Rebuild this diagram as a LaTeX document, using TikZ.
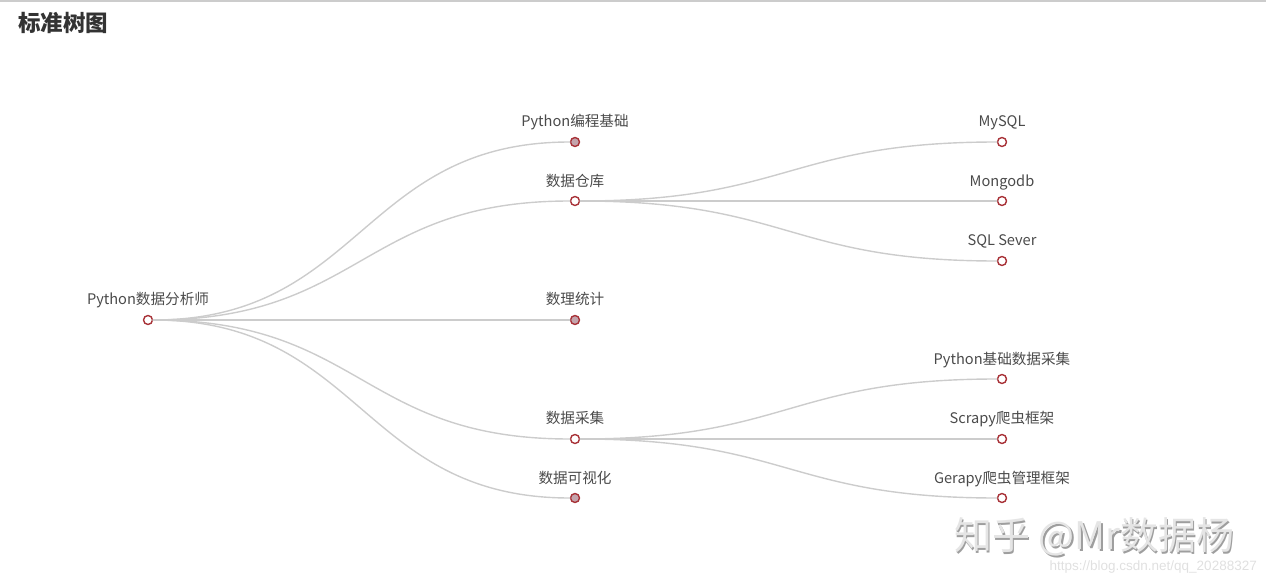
\documentclass[tikz,border=0pt]{standalone}
\usepackage{fontspec}
\setmainfont{Noto Sans CJK SC}
\newfontfamily\urlfont{Liberation Sans}
\definecolor{linegray}{HTML}{CCCCCC}
\definecolor{dotred}{HTML}{A83238}
\definecolor{dotfill}{HTML}{C4A4AC}
\definecolor{txtgray}{HTML}{4A4A4A}
\tikzset{
  dot/.style={circle,draw=dotred,line width=1.4pt,fill=white,minimum size=9pt,inner sep=0pt},
  leafdot/.style={dot,fill=dotfill},
  lbl/.style={text=txtgray,font=\fontsize{14.6}{16}\selectfont,inner sep=0pt,anchor=base},
  edge/.style={draw=linegray,line width=1.4pt},
}
\begin{document}
\begin{tikzpicture}[x=1pt,y=-1pt, line join=round, line cap=round]
	\useasboundingbox (0,0) rectangle (1266,586);
	\draw[linegray,line width=1.5pt] (0,1)--(1266,1);
	\node[anchor=west,text=black!80,font=\fontsize{22.5}{26}\selectfont\bfseries,inner sep=0pt] (title) at (18,23) {标准树图};
	\def\hw{213.5} % halbe Breite der Kurven
	% Knoten
	\node[dot] (root) at (148,320) {};
	\node[leafdot] (base) at (575,142) {};
	\node[dot] (store) at (575,201) {};
	\node[leafdot] (stat) at (575,320) {};
	\node[dot] (crawl) at (575,439) {};
	\node[leafdot] (vis) at (575,498) {};
	\node[dot] (mysql) at (1002,142) {};
	\node[dot] (mongo) at (1002,201) {};
	\node[dot] (sqls) at (1002,261) {};
	\node[dot] (pycrawl) at (1002,379) {};
	\node[dot] (scrapy) at (1002,439) {};
	\node[dot] (gerapy) at (1002,498) {};
	% Beschriftungen
	\node[lbl] (troot) at (148,304) {Python数据分析师};
	\node[lbl] (tbase) at (575,126) {Python编程基础};
	\node[lbl] (tstore) at (575,186) {数据仓库};
	\node[lbl] (tstat) at (575,304) {数理统计};
	\node[lbl] (tcrawl) at (575,423) {数据采集};
	\node[lbl] (tvis) at (575,483) {数据可视化};
	\node[lbl] (tmysql) at (1002,126) {MySQL};
	\node[lbl] (tmongo) at (1002,186) {Mongodb};
	\node[lbl] (tsqls) at (1002,245) {SQL Sever};
	\node[lbl] (tpycrawl) at (1002,364) {Python基础数据采集};
	\node[lbl] (tscrapy) at (1002,423) {Scrapy爬虫框架};
	\node[lbl] (tgerapy) at (1002,483) {Gerapy爬虫管理框架};
	% Kanten
	\foreach \p/\c in {root/base,root/store,root/stat,root/crawl,root/vis,
	                   store/mysql,store/mongo,store/sqls,
	                   crawl/pycrawl,crawl/scrapy,crawl/gerapy}
		\draw[edge] (\p) .. controls +(\hw,0) and +(-\hw,0) .. (\c);
	% Wasserzeichen
	\node[anchor=west,text=black!38,font=\fontsize{38}{40}\selectfont,inner sep=0pt] (wms) at (955.6,538.6) {知乎 @Mr数据杨};
	\node[anchor=west,text=black!10,font=\fontsize{38}{40}\selectfont,inner sep=0pt] (wm) at (954,537) {知乎 @Mr数据杨};
	\node[anchor=east,text=black!12,font=\urlfont\fontsize{13.5}{15}\selectfont,inner sep=0pt] (url) at (1257,567) {https://blog.csdn.net/qq\_20288327};
\end{tikzpicture}
\end{document}
